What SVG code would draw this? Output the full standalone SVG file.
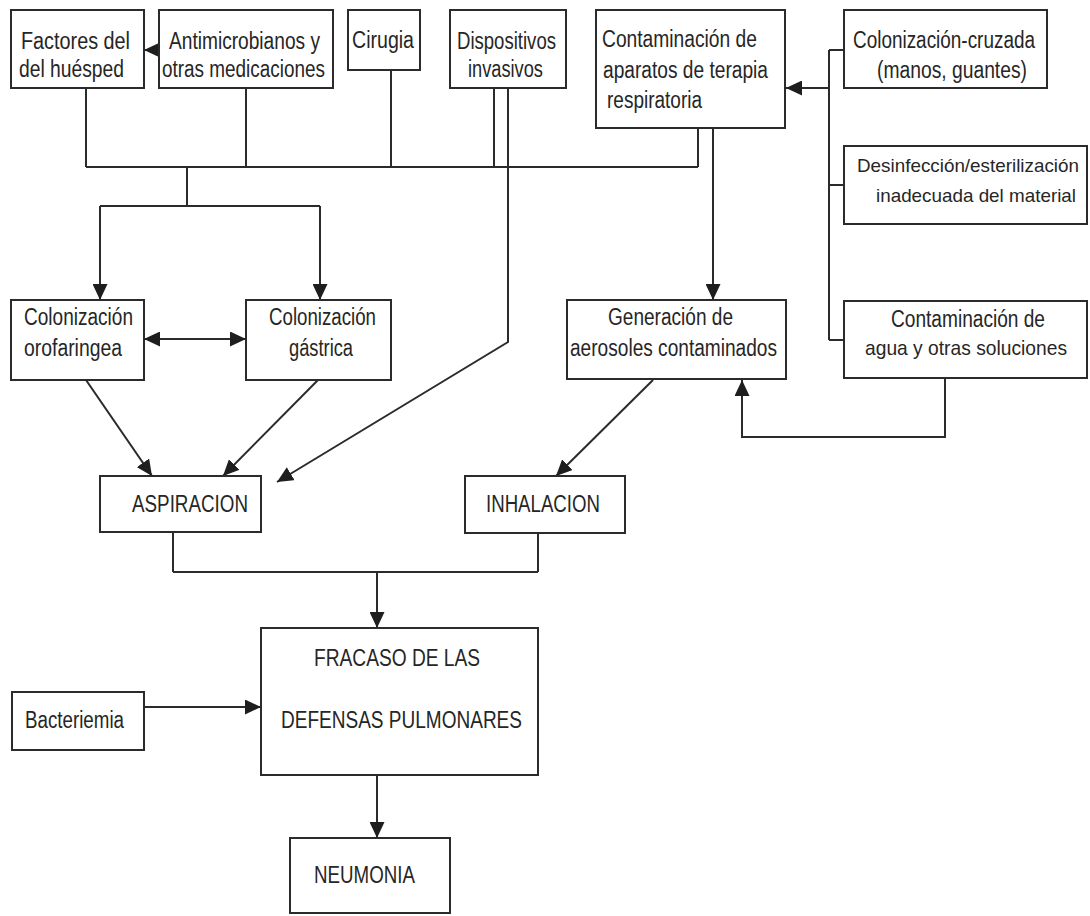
<svg xmlns="http://www.w3.org/2000/svg" width="1090" height="916" viewBox="0 0 1090 916">
<style>
.box{fill:#fff;stroke:#2b2b2b;stroke-width:2}
.t{font-family:"Liberation Sans",Arial,sans-serif;font-size:23px;fill:#262626}
.s19{font-size:19px}
.s21{font-size:21px}
.ln{fill:none;stroke:#2b2b2b;stroke-width:2}
</style>
<defs>
<marker id="ah" markerUnits="userSpaceOnUse" markerWidth="16" markerHeight="15" refX="16" refY="7.5" orient="auto-start-reverse">
<path d="M0,0 L16,7.5 L0,15 z" fill="#1e1e1e"/>
</marker>
</defs>
<rect width="1090" height="916" fill="#fff"/>
<g id="connectors">
<line class="ln" x1="160" y1="50" x2="144" y2="50" marker-end="url(#ah)"/>
<path class="ln" d="M86,88 V167 M246,88 V167 M391,70 V167 M494,88 V167 M698,128 V167 M86,167 H698"/>
<path class="ln" d="M187,167 V206 M100,206 H320"/>
<line class="ln" x1="100" y1="206" x2="100" y2="300" marker-end="url(#ah)"/>
<line class="ln" x1="320" y1="206" x2="320" y2="300" marker-end="url(#ah)"/>
<line class="ln" x1="144" y1="339" x2="246" y2="339" marker-start="url(#ah)" marker-end="url(#ah)"/>
<path class="ln" d="M508,88 V342 L277,482" marker-end="url(#ah)"/>
<line class="ln" x1="86" y1="380" x2="152" y2="476" marker-end="url(#ah)"/>
<line class="ln" x1="318" y1="380" x2="223" y2="476" marker-end="url(#ah)"/>
<line class="ln" x1="713" y1="128" x2="713" y2="300" marker-end="url(#ah)"/>
<path class="ln" d="M829,50 V340 M829,50 H844 M829,185 H844 M829,340 H844"/>
<line class="ln" x1="829" y1="88" x2="786" y2="88" marker-end="url(#ah)"/>
<path class="ln" d="M945,378 V437 H742 V380" marker-end="url(#ah)"/>
<line class="ln" x1="653" y1="380" x2="556" y2="476" marker-end="url(#ah)"/>
<path class="ln" d="M173,532 V572 M538,533 V572 M173,572 H538"/>
<line class="ln" x1="377" y1="572" x2="377" y2="628" marker-end="url(#ah)"/>
<line class="ln" x1="144" y1="707" x2="261" y2="707" marker-end="url(#ah)"/>
<line class="ln" x1="377" y1="775" x2="377" y2="838" marker-end="url(#ah)"/>
</g>
<g id="factores"><rect class="box" x="11" y="10" width="133" height="78"/>
<text class="t" x="21" y="49" textLength="109" lengthAdjust="spacingAndGlyphs">Factores del</text>
<text class="t" x="19" y="77" textLength="105" lengthAdjust="spacingAndGlyphs">del huésped</text></g>
<g id="antimicrobianos"><rect class="box" x="159" y="10" width="174" height="78"/>
<text class="t" x="169" y="49" textLength="151" lengthAdjust="spacingAndGlyphs">Antimicrobianos y</text>
<text class="t" x="162" y="77" textLength="163" lengthAdjust="spacingAndGlyphs">otras medicaciones</text></g>
<g id="cirugia"><rect class="box" x="348" y="10" width="72" height="60"/>
<text class="t" x="352" y="48" textLength="62" lengthAdjust="spacingAndGlyphs">Cirugia</text></g>
<g id="dispositivos"><rect class="box" x="450" y="10" width="116" height="78"/>
<text class="t" x="457" y="49" textLength="99" lengthAdjust="spacingAndGlyphs">Dispositivos</text>
<text class="t" x="468" y="77" textLength="75" lengthAdjust="spacingAndGlyphs">invasivos</text></g>
<g id="contaminacion-aparatos"><rect class="box" x="596" y="10" width="189" height="118"/>
<text class="t" x="602" y="47" textLength="155" lengthAdjust="spacingAndGlyphs">Contaminación de</text>
<text class="t" x="603" y="78" textLength="165" lengthAdjust="spacingAndGlyphs">aparatos de terapia</text>
<text class="t" x="607" y="108" textLength="95" lengthAdjust="spacingAndGlyphs">respiratoria</text></g>
<g id="colonizacion-cruzada"><rect class="box" x="844" y="10" width="203" height="78"/>
<text class="t" x="853" y="48" textLength="182" lengthAdjust="spacingAndGlyphs">Colonización-cruzada</text>
<text class="t" x="877" y="78" textLength="150" lengthAdjust="spacingAndGlyphs">(manos, guantes)</text></g>
<g id="desinfeccion"><rect class="box" x="844" y="146" width="243" height="78"/>
<text class="t s19" x="857" y="172" textLength="222" lengthAdjust="spacingAndGlyphs">Desinfección/esterilización</text>
<text class="t s19" x="876" y="202" textLength="200" lengthAdjust="spacingAndGlyphs">inadecuada del material</text></g>
<g id="contaminacion-agua"><rect class="box" x="844" y="301" width="243" height="77"/>
<text class="t" x="891" y="327" textLength="154" lengthAdjust="spacingAndGlyphs">Contaminación de</text>
<text class="t s21" x="865" y="355" textLength="202" lengthAdjust="spacingAndGlyphs">agua y otras soluciones</text></g>
<g id="col-orofaringea"><rect class="box" x="11" y="300" width="133" height="80"/>
<text class="t" x="24" y="325" textLength="109" lengthAdjust="spacingAndGlyphs">Colonización</text>
<text class="t" x="24" y="356" textLength="98" lengthAdjust="spacingAndGlyphs">orofaringea</text></g>
<g id="col-gastrica"><rect class="box" x="246" y="300" width="145" height="80"/>
<text class="t" x="269" y="325" textLength="107" lengthAdjust="spacingAndGlyphs">Colonización</text>
<text class="t" x="289" y="356" textLength="64" lengthAdjust="spacingAndGlyphs">gástrica</text></g>
<g id="generacion"><rect class="box" x="567" y="300" width="219" height="79"/>
<text class="t" x="608" y="325" textLength="125" lengthAdjust="spacingAndGlyphs">Generación de</text>
<text class="t" x="570" y="356" textLength="207" lengthAdjust="spacingAndGlyphs">aerosoles contaminados</text></g>
<g id="aspiracion"><rect class="box" x="100" y="476" width="161" height="56"/>
<text class="t" x="132" y="512" textLength="116" lengthAdjust="spacingAndGlyphs">ASPIRACION</text></g>
<g id="inhalacion"><rect class="box" x="465" y="476" width="160" height="57"/>
<text class="t" x="486" y="512" textLength="114" lengthAdjust="spacingAndGlyphs">INHALACION</text></g>
<g id="fracaso"><rect class="box" x="261" y="628" width="277" height="147"/>
<text class="t" x="314" y="666" textLength="166" lengthAdjust="spacingAndGlyphs">FRACASO DE LAS</text>
<text class="t" x="281" y="728" textLength="241" lengthAdjust="spacingAndGlyphs">DEFENSAS PULMONARES</text></g>
<g id="bacteriemia"><rect class="box" x="12" y="692" width="132" height="58"/>
<text class="t" x="25" y="728" textLength="99" lengthAdjust="spacingAndGlyphs">Bacteriemia</text></g>
<g id="neumonia"><rect class="box" x="290" y="838" width="160" height="75"/>
<text class="t" x="314" y="883" textLength="101" lengthAdjust="spacingAndGlyphs">NEUMONIA</text></g>
</svg>
